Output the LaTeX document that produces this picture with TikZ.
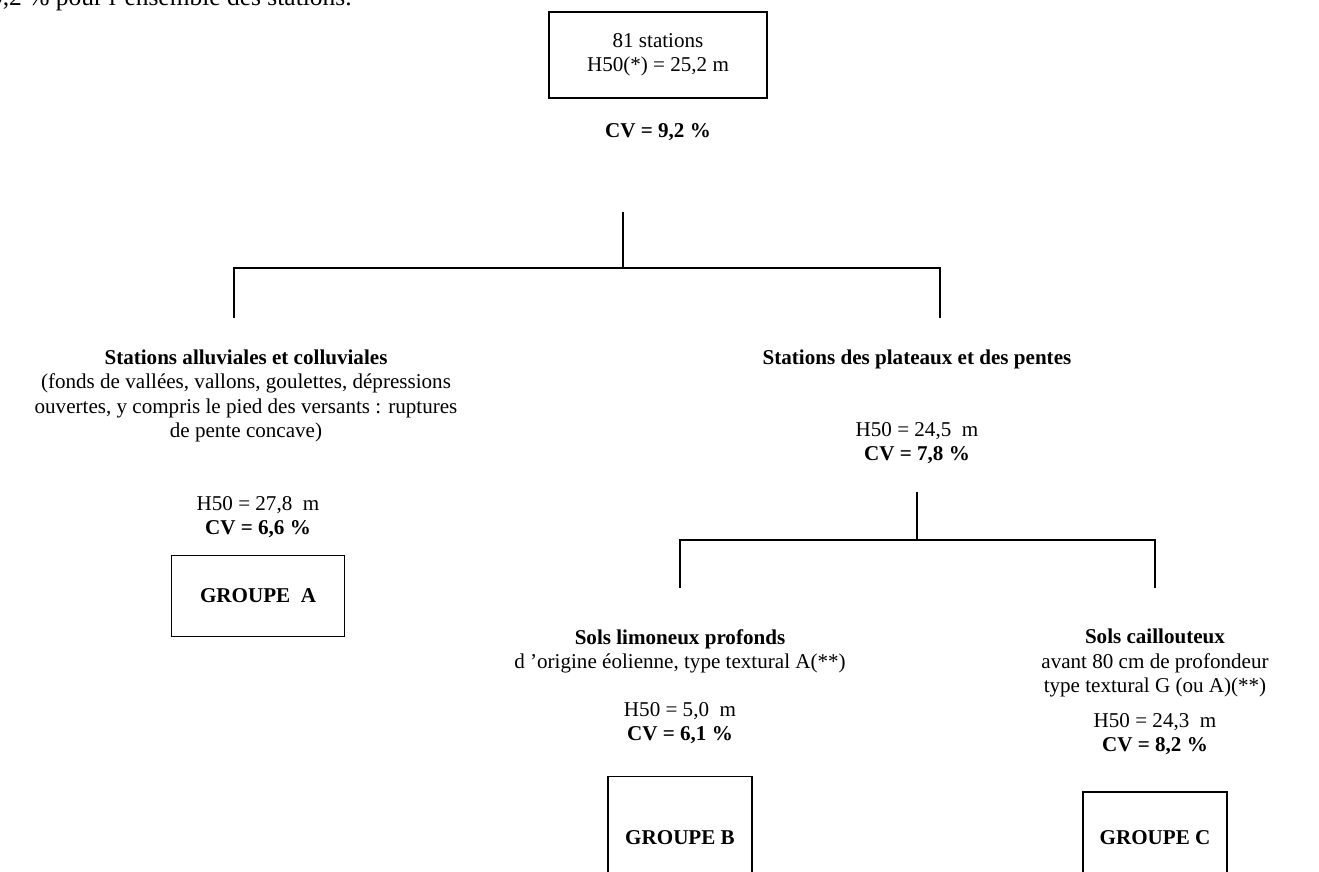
\documentclass[tikz,border=0pt]{standalone}
\usepackage{fontspec}
\setmainfont{Liberation Serif}
\usetikzlibrary{positioning}

\begin{document}
\begin{tikzpicture}[
    x=0.02cm,
    y=-0.02cm,
    every node/.style={font=\fontsize{12}{13.8}\selectfont,inner sep=0pt},
    textblock/.style={align=center},
    groupbox/.style={draw,line width=0.9pt,minimum width=#1},
    branch/.style={line width=0.9pt}
]

\useasboundingbox (0,0) rectangle (1319,872);

% Cut line of the text above
\node[anchor=base east,font=\fontsize{14.5}{16.6}\selectfont]
    (intro) at (352,6)
    {9,2 \% pour l'ensemble des stations.};

% Root of the tree
\node[draw,line width=0.9pt,textblock,
      minimum width=4.36cm,minimum height=1.72cm]
    (root) at (658,55)
    {81 stations\\H50(*) = 25,2 m};

\node (cvroot) at (658,132) {\textbf{CV = 9,2 \%}};

% First split
\coordinate (s0) at (623,212);
\coordinate (j0) at (623,268);
\coordinate (jl) at (234,268);
\coordinate (jr) at (940,268);
\coordinate (el) at (234,318);
\coordinate (er) at (940,318);

\draw[branch] (s0) -- (j0);
\draw[branch] (el) -- (jl) -- (jr) -- (er);

% Left branch
\node[textblock] (alluv) at (246,396)
    {\textbf{Stations alluviales et colluviales}\\
     (fonds de vallées, vallons, goulettes, dépressions\\
     ouvertes, y compris le pied des versants : ruptures\\
     de pente concave)};

\node[textblock] (statsA) at (258,517)
    {H50 = 27,8~~m\\\textbf{CV = 6,6 \%}};

\node[groupbox=3.46cm,minimum height=1.62cm]
    (grpA) at (258,596) {\textbf{GROUPE~~A}};

% Right branch
\node (plat) at (917,359)
    {\textbf{Stations des plateaux et des pentes}};

\node[textblock] (statsP) at (917,443)
    {H50 = 24,5~~m\\\textbf{CV = 7,8 \%}};

% Second split
\coordinate (s1) at (917,492);
\coordinate (j1) at (917,540);
\coordinate (jb) at (680,540);
\coordinate (jc) at (1155,540);
\coordinate (eb) at (680,588);
\coordinate (ec) at (1155,588);

\draw[branch] (s1) -- (j1);
\draw[branch] (eb) -- (jb) -- (jc) -- (ec);

% Deep silty soils
\node[textblock] (limon) at (680,651)
    {\textbf{Sols limoneux profonds}\\
     d 'origine éolienne, type textural A(**)};

\node[textblock] (statsB) at (680,723)
    {H50 = 5,0~~m\\\textbf{CV = 6,1 \%}};

\node[groupbox=2.88cm,minimum height=2.46cm]
    (grpB) at (680,838) {\textbf{GROUPE B}};

% Stony soils
\node[textblock] (caill) at (1155,663)
    {\textbf{Sols caillouteux}\\
     avant 80 cm de profondeur\\
     type textural G (ou A)(**)};

\node[textblock] (statsC) at (1155,734)
    {H50 = 24,3~~m\\\textbf{CV = 8,2 \%}};

\node[groupbox=2.88cm,minimum height=1.84cm]
    (grpC) at (1155,838) {\textbf{GROUPE C}};

\end{tikzpicture}
\end{document}
